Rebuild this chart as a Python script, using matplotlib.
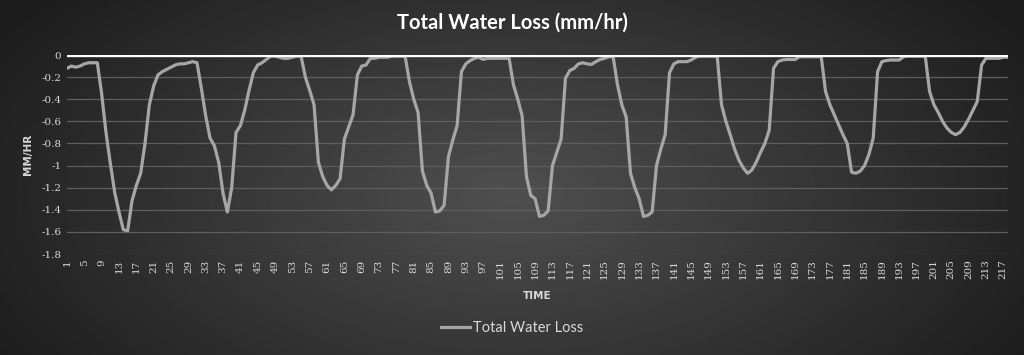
import numpy as np
import matplotlib
matplotlib.use("Agg")
import matplotlib.pyplot as plt

# hourly values (mm/hr)
loss = [
    -0.12, -0.10, -0.11, -0.10, -0.08, -0.07, -0.07, -0.07, -0.35, -0.70,
    -0.98, -1.24, -1.42, -1.58, -1.59, -1.32, -1.18, -1.07, -0.80, -0.45,
    -0.28, -0.18, -0.15, -0.13, -0.11, -0.09, -0.08, -0.08, -0.07, -0.06,
    -0.07, -0.30, -0.55, -0.75, -0.82, -0.97, -1.25, -1.42, -1.20, -0.70,
    -0.64, -0.50, -0.32, -0.16, -0.09, -0.07, -0.04, -0.01, -0.01, -0.02,
    -0.03, -0.03, -0.02, -0.01, -0.01, -0.20, -0.32, -0.45, -0.97, -1.10,
    -1.18, -1.22, -1.18, -1.12, -0.76, -0.65, -0.54, -0.18, -0.10, -0.09,
    -0.03, -0.03, -0.02, -0.02, -0.02, -0.01, -0.01, -0.01, -0.01, -0.24,
    -0.40, -0.52, -1.05, -1.18, -1.25, -1.42, -1.41, -1.36, -0.92, -0.77,
    -0.64, -0.15, -0.08, -0.05, -0.03, -0.02, -0.04, -0.03, -0.03, -0.03,
    -0.03, -0.03, -0.03, -0.27, -0.40, -0.55, -1.10, -1.27, -1.30, -1.46,
    -1.45, -1.41, -1.00, -0.88, -0.76, -0.21, -0.14, -0.12, -0.08, -0.07,
    -0.08, -0.085, -0.06, -0.04, -0.03, -0.015, -0.015, -0.27, -0.45, -0.56,
    -1.07, -1.20, -1.30, -1.46, -1.45, -1.42, -1.00, -0.85, -0.72, -0.16,
    -0.08, -0.06, -0.06, -0.06, -0.045, -0.02, -0.01, -0.01, -0.01, -0.01,
    -0.01, -0.45, -0.60, -0.72, -0.85, -0.95, -1.02, -1.07, -1.04, -0.97,
    -0.88, -0.80, -0.68, -0.12, -0.06, -0.045, -0.04, -0.04, -0.04, -0.015,
    -0.015, -0.015, -0.015, -0.015, -0.015, -0.33, -0.45, -0.54, -0.63, -0.72,
    -0.80, -1.06, -1.07, -1.05, -1.00, -0.90, -0.75, -0.15, -0.06, -0.05,
    -0.045, -0.045, -0.045, -0.015, -0.01, -0.01, -0.01, -0.01, -0.01, -0.33,
    -0.45, -0.52, -0.60, -0.66, -0.70, -0.72, -0.70, -0.65, -0.58, -0.50,
    -0.42, -0.09, -0.03, -0.03, -0.03, -0.03, -0.02, -0.02,
]
time = np.arange(1, len(loss) + 1)
xticks = list(range(1, 218, 4))
yticks = [0, -0.2, -0.4, -0.6, -0.8, -1, -1.2, -1.4, -1.6, -1.8]

fig = plt.figure(figsize=(10.24, 3.55), dpi=100)

# dark radial background
bg = fig.add_axes([0, 0, 1, 1], zorder=-10)
gx, gy = np.meshgrid(np.linspace(0, 1, 400), np.linspace(0, 1, 200))
r = np.sqrt(((gx - 0.5) / 0.6) ** 2 + ((gy - 0.45) / 0.9) ** 2)
shade = np.clip(0.31 - 0.2 * r, 0.11, 0.31)
bg.imshow(shade, cmap="gray", vmin=0, vmax=1, extent=[0, 1, 0, 1],
          aspect="auto", origin="lower")
bg.axis("off")

ax = fig.add_axes([0.0654, 0.2845, 0.9186, 0.5605])
ax.patch.set_alpha(0)
ax.plot(time, loss, color="#a6a6a6", lw=2.3, label="Total Water Loss",
        solid_joinstyle="round", zorder=3)
ax.axhline(0, color="white", lw=2.4, zorder=4)

ax.set_xlim(1, len(loss))
ax.set_ylim(-1.8, 0)
ax.set_yticks(yticks)
ax.set_yticklabels(["0" if v == 0 else f"{v:g}" for v in yticks])
ax.set_xticks(xticks)
ax.set_xticklabels([str(t) for t in xticks], rotation=90)
ax.tick_params(length=0, colors="#d9d9d9", labelsize=7.5, pad=4)
for lab in ax.get_xticklabels() + ax.get_yticklabels():
    lab.set_family("DejaVu Serif")
ax.grid(axis="y", color="#5e5e5e", lw=0.9)
ax.set_axisbelow(True)
for s in ax.spines.values():
    s.set_visible(False)

ax.set_xlabel("TIME", color="#d9d9d9", fontsize=7.5, fontweight="bold", labelpad=8)
ax.set_ylabel("MM/HR", color="#d9d9d9", fontsize=7.5, fontweight="bold", labelpad=6)
fig.text(0.5, 0.935, "Total Water Loss (mm/hr)", ha="center", va="center",
         color="white", fontsize=14.5, fontweight="bold", family="Lato")

leg = fig.legend(loc="lower center", bbox_to_anchor=(0.5, 0.02), frameon=False,
                 handlelength=2.0, handletextpad=0.2,
                 prop={"family": "Lato", "size": 10.5})
for t in leg.get_texts():
    t.set_color("#d9d9d9")

fig.savefig("out.png", dpi=100)
